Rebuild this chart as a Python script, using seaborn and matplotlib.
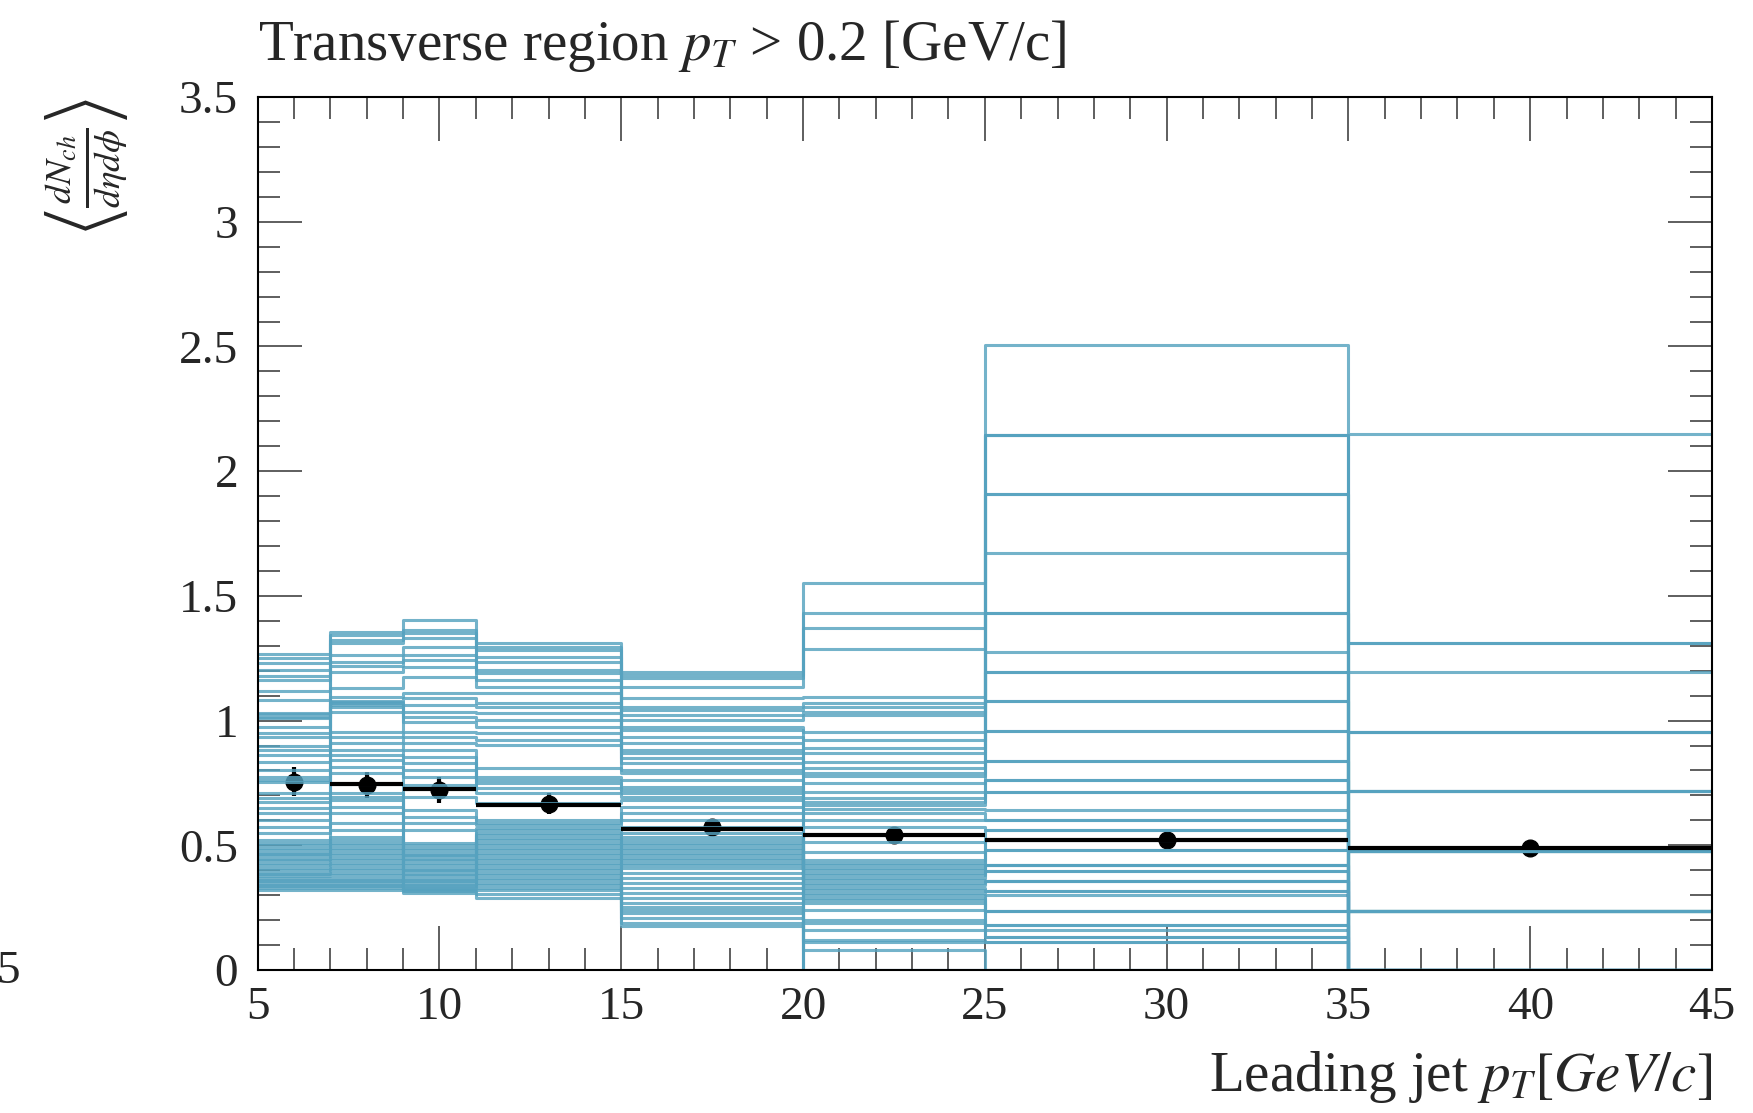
import numpy as np
import pandas as pd
import matplotlib
matplotlib.use("Agg")
import matplotlib.pyplot as plt
from matplotlib.ticker import MultipleLocator, FuncFormatter
import seaborn as sns

# Leading-jet pT bin edges [GeV/c]
edges = [5, 7, 9, 11, 15, 20, 25, 35, 45]

# Replica values of <dN_ch / deta dphi> in each bin (one entry per replica)
bin_5_7 = [1.267, 1.25, 1.23, 1.203, 1.18, 1.163, 1.12, 1.083, 1.03, 1.025, 1.015, 1.01,
           0.976, 0.95, 0.935, 0.90, 0.882, 0.86, 0.835, 0.80, 0.775, 0.762, 0.755, 0.709,
           0.69, 0.675, 0.65, 0.628, 0.60, 0.575, 0.548,
           0.52, 0.51, 0.50, 0.49, 0.48, 0.47, 0.465, 0.455, 0.445, 0.44, 0.43, 0.42,
           0.41, 0.40, 0.39, 0.385, 0.375, 0.37, 0.36, 0.355, 0.35, 0.34, 0.335, 0.33, 0.32]
bin_7_9 = [1.356, 1.343, 1.323, 1.31, 1.263, 1.236, 1.22, 1.196, 1.129, 1.096, 1.08, 1.075,
           1.07, 1.063, 1.056, 1.036, 0.956, 0.935, 0.909, 0.882, 0.862, 0.842, 0.815, 0.789,
           0.745, 0.709, 0.695, 0.682, 0.655, 0.628, 0.588, 0.561, 0.535,
           0.52, 0.51, 0.50, 0.49, 0.48, 0.47, 0.46, 0.45, 0.44, 0.43, 0.42, 0.41, 0.40,
           0.39, 0.38, 0.37, 0.36, 0.355, 0.35, 0.34, 0.335, 0.33, 0.32]
bin_9_11 = [1.403, 1.363, 1.35, 1.33, 1.296, 1.263, 1.243, 1.216, 1.176, 1.109, 1.089, 1.063,
            1.036, 1.016, 0.996, 0.956, 0.935, 0.909, 0.882, 0.855, 0.829, 0.802, 0.775, 0.742,
            0.695, 0.642, 0.615, 0.588, 0.561,
            0.508, 0.50, 0.49, 0.48, 0.47, 0.46, 0.455, 0.445, 0.44, 0.43, 0.42, 0.41, 0.40,
            0.395, 0.385, 0.38, 0.37, 0.36, 0.355, 0.35, 0.34, 0.335, 0.33, 0.325, 0.32,
            0.315, 0.307]
bin_11_15 = [1.31, 1.296, 1.283, 1.256, 1.236, 1.203, 1.19, 1.163, 1.136, 1.109, 1.069, 1.056,
             1.029, 1.002, 0.976, 0.949, 0.922, 0.902, 0.809, 0.775, 0.762, 0.749, 0.729,
             0.709, 0.668, 0.60, 0.59, 0.58,
             0.57, 0.56, 0.55, 0.54, 0.53, 0.52, 0.51, 0.50, 0.49, 0.48, 0.47, 0.46, 0.45,
             0.44, 0.43, 0.42, 0.41, 0.40, 0.39, 0.38, 0.37, 0.36, 0.35, 0.34, 0.33, 0.32,
             0.305, 0.29]
bin_15_20 = [1.196, 1.183, 1.17, 1.136, 1.089, 1.056, 1.042, 1.022, 1.002, 0.976, 0.962, 0.935,
             0.909, 0.882, 0.869, 0.849, 0.829, 0.802, 0.789, 0.762, 0.735, 0.722, 0.709,
             0.695, 0.682, 0.655, 0.628, 0.601, 0.575,
             0.548, 0.535, 0.52, 0.51, 0.50, 0.49, 0.48, 0.47, 0.46, 0.45, 0.44, 0.43, 0.42,
             0.41, 0.39, 0.37, 0.35, 0.33, 0.31,
             0.29, 0.267, 0.254, 0.241, 0.227, 0.207, 0.19, 0.175]
bin_20_25 = [1.55, 1.433, 1.37, 1.287, 1.096, 1.072, 1.056, 1.036, 1.022, 0.953, 0.922, 0.889,
             0.869, 0.835, 0.809, 0.789, 0.778, 0.749, 0.715, 0.688, 0.675, 0.66, 0.645,
             0.628, 0.601, 0.575, 0.515, 0.474,
             0.441, 0.43, 0.42, 0.41, 0.40, 0.39, 0.38, 0.37, 0.36, 0.35, 0.34, 0.33, 0.32,
             0.31, 0.30, 0.29, 0.28, 0.267,
             0.241, 0.20, 0.187, 0.16, 0.12, 0.113, 0.08, 0.0, 0.0, 0.0]
bin_25_35 = [2.506, 2.147, 2.147, 2.147, 1.909, 1.909, 1.671, 1.433, 1.433, 1.275, 1.196, 1.196,
             1.077, 1.077, 0.958, 0.958, 0.839, 0.839, 0.760, 0.760, 0.713, 0.713, 0.641,
             0.601, 0.601, 0.562, 0.562, 0.522, 0.522, 0.483, 0.483, 0.419, 0.419, 0.419,
             0.395, 0.395, 0.356, 0.356, 0.356, 0.316, 0.316, 0.301, 0.237, 0.237, 0.237,
             0.182, 0.182, 0.160, 0.134, 0.134, 0.113, 0.113, 0.0, 0.0, 0.0, 0.0]
bin_35_45 = [2.148, 1.312, 1.312, 1.195, 0.953, 0.953, 0.953, 0.716, 0.716, 0.716, 0.716, 0.716,
             0.477, 0.477, 0.477, 0.477, 0.477, 0.477, 0.477, 0.477,
             0.238, 0.238, 0.238, 0.238, 0.238, 0.238, 0.238, 0.238, 0.238, 0.238,
             0.0, 0.0, 0.0, 0.0, 0.0, 0.0, 0.0, 0.0, 0.0, 0.0, 0.0, 0.0, 0.0,
             0.0, 0.0, 0.0, 0.0, 0.0, 0.0, 0.0, 0.0, 0.0, 0.0, 0.0, 0.0, 0.0]

# Central prediction per bin, from the 7 GeV/c edge onward
central_lo = [7, 9, 11, 15, 20, 25, 35]
central_hi = [9, 11, 15, 20, 25, 35, 45]
central_vals = [0.745, 0.724, 0.662, 0.564, 0.541, 0.522, 0.490]

# Measured points with statistical errors
data_x = [6, 8, 10, 13, 17.5, 22.5, 30, 40]
data_y = [0.755, 0.742, 0.722, 0.666, 0.575, 0.541, 0.522, 0.490]
data_err = [0.057, 0.052, 0.052, 0.042, 0.03, 0.02, 0.004, 0.004]

replica_bins = [bin_5_7, bin_7_9, bin_9_11, bin_11_15, bin_15_20, bin_20_25, bin_25_35, bin_35_45]
n_rep = len(bin_5_7)
centers = [(edges[i] + edges[i + 1]) / 2 for i in range(len(edges) - 1)]

rows = []
for r in range(n_rep):
    for b, vals in enumerate(replica_bins):
        rows.append({"pt": centers[b], "w": vals[r], "rep": r})
rep_df = pd.DataFrame(rows)

sns.set_theme(style="ticks")
plt.rcParams["font.family"] = ["Liberation Serif", "DejaVu Serif"]
plt.rcParams["mathtext.fontset"] = "stix"

fig = plt.figure(figsize=(17.53, 11.13), dpi=100)
ax = fig.add_axes([0.147, 0.1285, 0.8296, 0.7843])

line_color = "#56a2bf"

ax.errorbar(data_x, data_y, yerr=data_err, fmt="o", color="black", ms=12,
            elinewidth=3.0, capsize=0, zorder=1)

sns.histplot(data=rep_df, x="pt", weights="w", hue="rep", bins=edges, element="step",
             fill=False, palette=[line_color] * n_rep, legend=False, linewidth=2.2,
             alpha=0.82, ax=ax, zorder=2)

ax.hlines(central_vals, central_lo, central_hi, color="black", linewidth=3.0, zorder=4)

ax.set_xlim(5, 45)
ax.set_ylim(0, 3.5)

ax.xaxis.set_major_locator(MultipleLocator(5))
ax.xaxis.set_minor_locator(MultipleLocator(1))
ax.yaxis.set_major_locator(MultipleLocator(0.5))
ax.yaxis.set_minor_locator(MultipleLocator(0.1))
ax.yaxis.set_major_formatter(FuncFormatter(lambda v, p: f"{v:g}"))

ax.tick_params(which="both", direction="in", top=True, right=True,
               color="#333333", width=1.1)
ax.tick_params(which="major", length=32, labelsize=34)
ax.tick_params(axis="x", which="major", pad=12)
ax.tick_params(axis="y", which="major", pad=14)
ax.tick_params(which="minor", length=16)

for s in ax.spines.values():
    s.set_visible(True)
    s.set_color("black")
    s.set_linewidth(1.5)

ax.set_title(r"Transverse region $p_T$ > 0.2 [GeV/c]", loc="left", fontsize=41, pad=27)
ax.set_xlabel(r"Leading jet $p_T[GeV/c]$", loc="right", fontsize=41, labelpad=14)
ax.set_ylabel(r"$\left\langle\frac{dN_{ch}}{d\eta d\phi}\right\rangle$", loc="top", fontsize=38)
ax.yaxis.set_label_coords(-0.088, 1.0)

fig.text(-0.002, 0.127, "5", fontsize=34, ha="left", va="center")

fig.savefig("out.png", dpi=100)
